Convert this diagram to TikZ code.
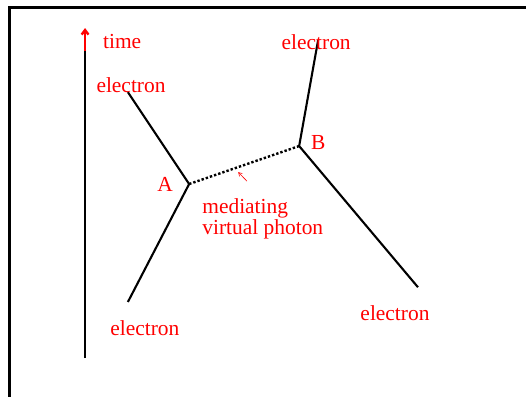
\documentclass[tikz,border=0pt]{standalone}
\usepackage{fontspec}
\setmainfont{Liberation Serif}
\usetikzlibrary{arrows.meta}

\begin{document}
\begin{tikzpicture}[
    font=\fontsize{21.5}{24}\selectfont,
    frame/.style={line width=3pt},
    electron/.style={line width=2.1pt},
    photon/.style={line width=2.4pt, dotted},
    label/.style={text=red, inner sep=0pt},
    pointer/.style={-{Straight Barb[length=1.2mm,width=1.4mm]}, red, line width=0.6pt}
]
\useasboundingbox (0,0) rectangle (18.55,13.97);

% frame
\coordinate (fcorner) at (0.335,13.70);
\coordinate (ftop)    at (18.60,13.70);
\coordinate (fbot)    at (0.335,-0.10);
\draw[frame] (fbot) -- (fcorner) -- (ftop);

% time axis
\coordinate (tbot) at (3.00,1.34);
\coordinate (tmid) at (3.00,12.17);
\coordinate (ttop) at (3.00,12.98);
\draw[line width=2.4pt] (tbot) -- (tmid);
\draw[-{Straight Barb[length=1.6mm,width=2.4mm]}, red, line width=2.4pt] (tmid) -- (ttop);
\node[label, anchor=west] (time) at (3.63,12.49) {time};

% vertices
\coordinate (A) at (6.67,7.48);
\coordinate (B) at (10.55,8.82);

% electron ends
\coordinate (e1) at (4.51,10.72);
\coordinate (e2) at (4.51,3.32);
\coordinate (e3) at (11.22,12.56);
\coordinate (e4) at (14.74,3.84);

\draw[electron] (e2) -- (A) -- (e1);
\draw[electron] (e4) -- (B) -- (e3);
\draw[photon] (A) -- (B);

% labels
\node[label] (l1) at (4.62,10.97) {electron};
\node[label] (l2) at (11.15,12.49) {electron};
\node[label] (l3) at (5.11,2.40) {electron};
\node[label] (l4) at (13.93,2.93) {electron};
\node[label] (lA) at (5.82,7.48) {A};
\node[label] (lB) at (11.22,8.96) {B};
\node[label, align=left, anchor=west] (lphot) at (7.13,6.26)
    {mediating\\[-3pt]virtual photon};

\coordinate (ptail) at (8.71,7.58);
\coordinate (phead) at (8.40,7.90);
\draw[pointer] (ptail) -- (phead);

\end{tikzpicture}
\end{document}
